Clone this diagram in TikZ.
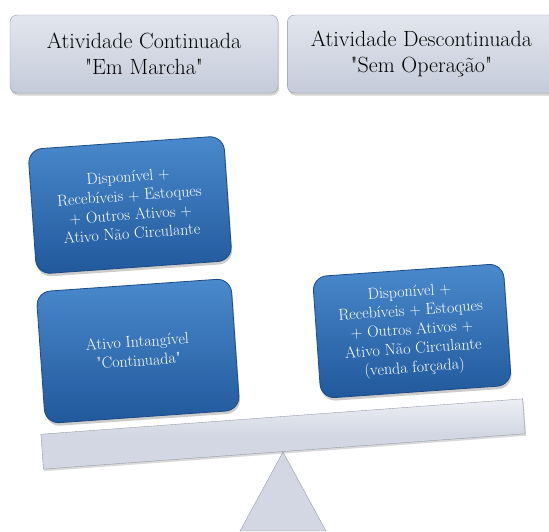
\documentclass[tikz,border=0pt]{standalone}
\usepackage{fontspec}
\usetikzlibrary{positioning, shadows}

\definecolor{assettop}{RGB}{74,138,204}
\definecolor{assetbot}{RGB}{33,88,156}
\definecolor{assetedge}{RGB}{28,74,130}
\definecolor{headtop}{RGB}{226,230,238}
\definecolor{headbot}{RGB}{196,203,217}
\definecolor{plankgray}{RGB}{210,215,227}
\definecolor{plankedge}{RGB}{150,155,168}

\newcommand{\dq}{\textquotedbl}

\begin{document}
\begin{tikzpicture}[
    x=1pt, y=-1pt,
    node distance=9pt,
    header/.style={
        rectangle,
        rounded corners=2.5mm,
        draw=plankedge,
        top color=headtop,
        bottom color=headbot,
        minimum width=268pt,
        minimum height=78pt,
        align=center,
        font=\fontsize{22}{26}\selectfont,
        drop shadow={opacity=0.35, shadow xshift=1pt, shadow yshift=-2.5pt}
    },
    asset/.style={
        rectangle,
        rounded corners=5mm,
        draw=assetedge,
        thick,
        top color=assettop,
        bottom color=assetbot,
        text=white,
        align=center,
        rotate=4,
        font=\fontsize{16}{19}\selectfont,
        drop shadow={opacity=0.4, shadow xshift=1pt, shadow yshift=-3pt}
    },
    plank/.style={
        rectangle,
        draw=plankedge,
        top color=white!60!plankgray,
        bottom color=plankgray,
        middle color=plankgray,
        drop shadow={opacity=0.3, shadow xshift=1pt, shadow yshift=-2pt}
    }
]

    \useasboundingbox (0,0) rectangle (549,531);

    % --- Header ---
    \node[header] (going) at (144,54) {Atividade Continuada\\\dq Em Marcha\dq};
    \node[header, right=of going] (stopped) {Atividade Descontinuada\\\dq Sem Operação\dq};

    % --- Pivot ---
    \coordinate (apex) at (283,452);
    \filldraw[fill=plankgray, draw=plankedge] (apex) -- (326,531) -- (240,531) -- cycle;

    % --- Beam ---
    \node[plank, minimum width=483pt, minimum height=35pt, rotate=4.2] (beam) at (283,434) {};

    % --- Left pan ---
    \node[asset, minimum width=196pt, minimum height=125pt] (tangible) at (130,205)
        {Disponível +\\Recebíveis + Estoques\\+ Outros Ativos +\\Ativo Não Circulante};
    \node[asset, minimum width=195pt, minimum height=132pt] (goodwill) at (138,351)
        {Ativo Intangível\\\dq Continuada\dq};

    % --- Right pan ---
    \node[asset, minimum width=191pt, minimum height=122pt] (forced) at (412,331)
        {Disponível +\\Recebíveis + Estoques\\+ Outros Ativos +\\Ativo Não Circulante\\(venda forçada)};

\end{tikzpicture}
\end{document}
